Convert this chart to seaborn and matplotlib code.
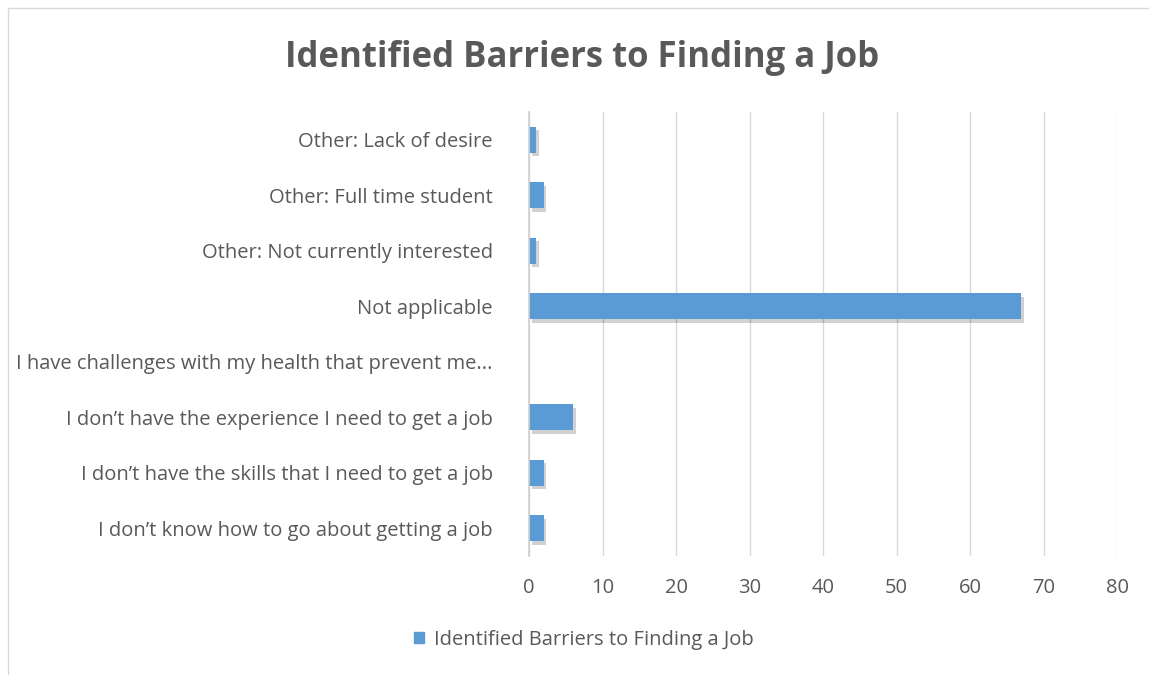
import matplotlib
matplotlib.use("Agg")
import matplotlib.pyplot as plt
import matplotlib.patheffects as pe
import seaborn as sns
import pandas as pd

categories = [
    "Other: Lack of desire",
    "Other: Full time student",
    "Other: Not currently interested",
    "Not applicable",
    "I have challenges with my health that prevent me...",
    "I don\u2019t have the experience I need to get a job",
    "I don\u2019t have the skills that I need to get a job",
    "I don\u2019t know how to go about getting a job",
]
counts = [1, 2, 1, 67, 0, 6, 2, 2]
series_name = "Identified Barriers to Finding a Job"
x_ticks = [0, 10, 20, 30, 40, 50, 60, 70, 80]

df = pd.DataFrame({"category": categories, "count": counts})

sns.set_theme(style="white")
plt.rcParams["font.family"] = ["Open Sans", "DejaVu Sans"]

text_color = "#595959"
bar_color = "#5B9BD5"

fig = plt.figure(figsize=(11.49, 6.75), dpi=100)
ax = fig.add_axes([0.4604, 0.176, 0.5118, 0.658])

sns.barplot(data=df, x="count", y="category", order=categories,
            color=bar_color, width=0.47, ax=ax, saturation=1, linewidth=0)

# soft drop shadow under each bar
for p in ax.patches:
    p.set_path_effects([pe.SimplePatchShadow(offset=(2, -2.5), shadow_rgbFace="#000000", alpha=0.18),
                        pe.Normal()])

ax.set_xlim(0, 80)
ax.set_xticks(x_ticks)
ax.set_xlabel("")
ax.set_ylabel("")
ax.grid(axis="x", color="#d9d9d9", linewidth=1)
ax.set_axisbelow(True)
for s in ["top", "right", "bottom"]:
    ax.spines[s].set_visible(False)
ax.spines["left"].set_color("#d0d0d0")
ax.tick_params(axis="both", length=0, labelcolor=text_color, labelsize=14.5)
ax.tick_params(axis="y", pad=26)
ax.tick_params(axis="x", pad=16)

fig.suptitle(series_name, x=0.507, y=0.94, fontsize=25, fontweight="bold", color=text_color)

handle = plt.Rectangle((0, 0), 1, 1, color=bar_color)
fig.legend([handle], [series_name], loc="center", bbox_to_anchor=(0.508, 0.052),
           frameon=False, fontsize=14.5, labelcolor=text_color, handlelength=0.5,
           handleheight=0.5, handletextpad=0.5)

# outer chart frame
frame = plt.Rectangle((0.007, -0.01), 1.0, 0.998, transform=fig.transFigure,
                      fill=False, edgecolor="#d9d9d9", linewidth=1)
fig.patches.append(frame)

fig.savefig("out.png", dpi=100, facecolor="white")
